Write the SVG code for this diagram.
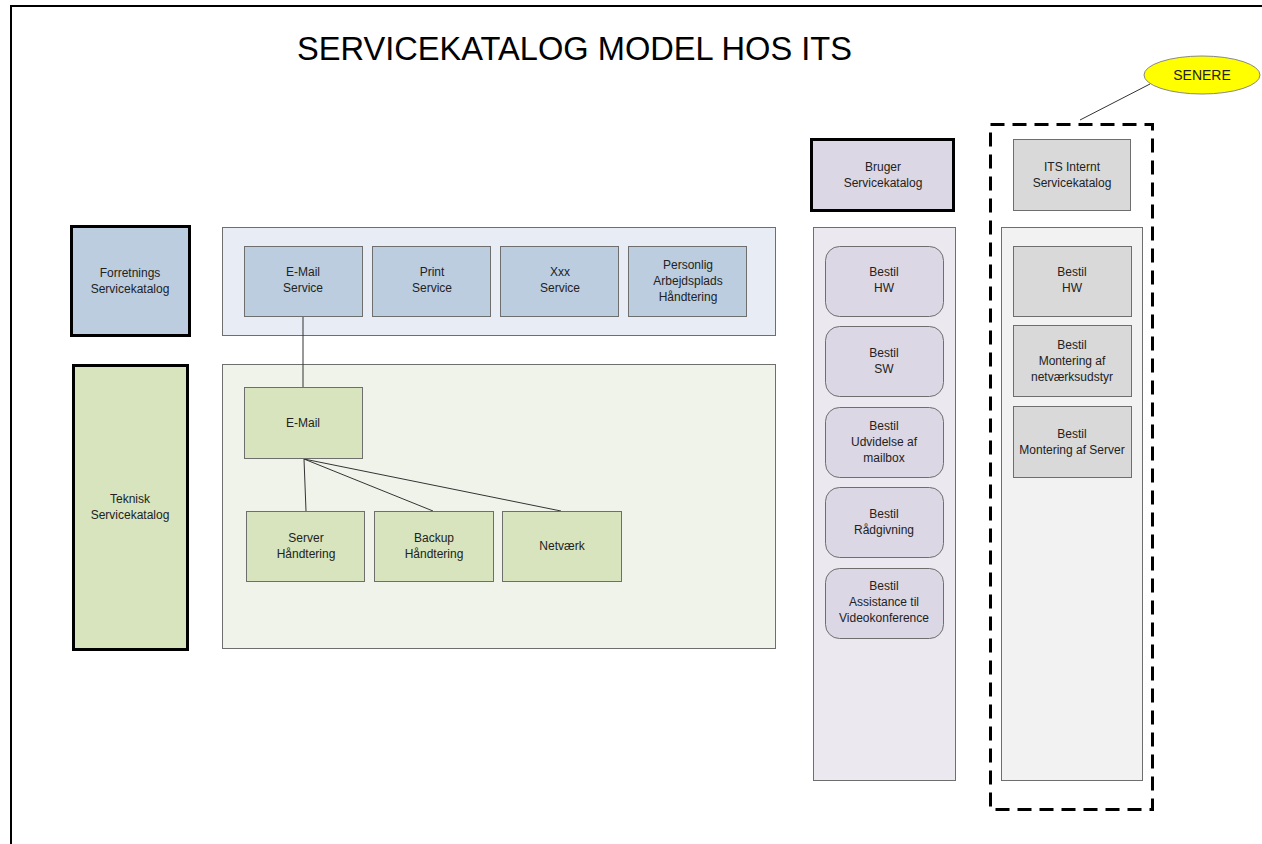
<svg xmlns="http://www.w3.org/2000/svg" width="1262" height="844" viewBox="0 0 1262 844">
  <style>
    text { font-family: "Liberation Sans", Arial, sans-serif; font-size: 12px; fill: #222; text-anchor: middle; }
    .title { font-size: 33px; fill: #000; text-anchor: start; }
    .blue { fill: #bccde0; }
    .green { fill: #d7e4bd; }
    .lav { fill: #dcd7e4; }
    .grey { fill: #d9d9d9; }
    .thick { stroke: #000; stroke-width: 3; }
    .thin { stroke: #6e6e6e; stroke-width: 1; }
    .conn line { stroke: #333; stroke-width: 1; }
  </style>

  <rect width="1262" height="844" fill="#fff"/>
  <!-- page frame -->
  <path d="M11 844 V6 H1262" fill="none" stroke="#000" stroke-width="2"/>

  <text class="title" x="297" y="60" textLength="555" lengthAdjust="spacingAndGlyphs">SERVICEKATALOG MODEL HOS ITS</text>

  <!-- containers -->
  <g id="forretning-panel"><rect x="222.5" y="227.5" width="553" height="108" fill="#e8ecf4" class="thin"/></g>
  <g id="teknisk-panel"><rect x="222.5" y="364.5" width="553" height="284" fill="#f0f3ea" class="thin"/></g>
  <g id="bruger-panel"><rect x="813.5" y="227.5" width="142" height="553" fill="#ebe8ef" class="thin"/></g>
  <g id="its-panel"><rect x="1001.5" y="227.5" width="141" height="553" fill="#f2f2f2" class="thin"/></g>

  <!-- connectors -->
  <g class="conn" id="connectors">
    <line x1="303" y1="317" x2="303" y2="387"/>
    <line x1="304" y1="459" x2="306" y2="511"/>
    <line x1="304" y1="459" x2="433" y2="511"/>
    <line x1="304" y1="459" x2="561" y2="511"/>
    <line x1="1080" y1="120" x2="1150" y2="84" stroke="#777"/>
  </g>

  <!-- catalogue headers -->
  <g id="forretnings-servicekatalog">
    <rect x="71.5" y="226.5" width="118" height="109" class="blue thick"/>
    <text x="130" y="277">Forretnings</text><text x="130" y="293">Servicekatalog</text>
  </g>
  <g id="teknisk-servicekatalog">
    <rect x="73.5" y="365.5" width="114" height="284" class="green thick"/>
    <text x="130" y="503">Teknisk</text><text x="130" y="519">Servicekatalog</text>
  </g>
  <g id="bruger-servicekatalog">
    <rect x="811.5" y="139.5" width="142" height="71" class="lav thick"/>
    <text x="883" y="171">Bruger</text><text x="883" y="187">Servicekatalog</text>
  </g>
  <g id="its-internt-servicekatalog">
    <rect x="1013.5" y="139.5" width="117" height="71" class="grey thin"/>
    <text x="1072" y="171">ITS Internt</text><text x="1072" y="187">Servicekatalog</text>
  </g>

  <!-- business services -->
  <g id="email-service">
    <rect x="244.5" y="246.5" width="118" height="70" class="blue thin"/>
    <text x="303" y="276">E-Mail</text><text x="303" y="292">Service</text>
  </g>
  <g id="print-service">
    <rect x="372.5" y="246.5" width="118" height="70" class="blue thin"/>
    <text x="432" y="276">Print</text><text x="432" y="292">Service</text>
  </g>
  <g id="xxx-service">
    <rect x="500.5" y="246.5" width="118" height="70" class="blue thin"/>
    <text x="560" y="276">Xxx</text><text x="560" y="292">Service</text>
  </g>
  <g id="personlig-arbejdsplads">
    <rect x="628.5" y="246.5" width="118" height="70" class="blue thin"/>
    <text x="688" y="269">Personlig</text><text x="688" y="285">Arbejdsplads</text><text x="688" y="301">Håndtering</text>
  </g>

  <!-- technical services -->
  <g id="email">
    <rect x="244.5" y="387.5" width="118" height="71" class="green thin"/>
    <text x="303" y="427">E-Mail</text>
  </g>
  <g id="server-handtering">
    <rect x="246.5" y="511.5" width="118" height="70" class="green thin"/>
    <text x="306" y="542">Server</text><text x="306" y="558">Håndtering</text>
  </g>
  <g id="backup-handtering">
    <rect x="374.5" y="511.5" width="119" height="70" class="green thin"/>
    <text x="434" y="542">Backup</text><text x="434" y="558">Håndtering</text>
  </g>
  <g id="netvaerk">
    <rect x="502.5" y="511.5" width="119" height="70" class="green thin"/>
    <text x="562" y="550">Netværk</text>
  </g>

  <!-- user catalogue items -->
  <g id="bruger-hw">
    <rect x="825.5" y="246.5" width="118" height="70" rx="14" class="lav thin"/>
    <text x="884" y="276">Bestil</text><text x="884" y="292">HW</text>
  </g>
  <g id="bruger-sw">
    <rect x="825.5" y="326.5" width="118" height="70" rx="14" class="lav thin"/>
    <text x="884" y="357">Bestil</text><text x="884" y="373">SW</text>
  </g>
  <g id="bruger-mailbox">
    <rect x="825.5" y="407.5" width="118" height="70" rx="14" class="lav thin"/>
    <text x="884" y="430">Bestil</text><text x="884" y="446">Udvidelse af</text><text x="884" y="462">mailbox</text>
  </g>
  <g id="bruger-radgivning">
    <rect x="825.5" y="487.5" width="118" height="70" rx="14" class="lav thin"/>
    <text x="884" y="518">Bestil</text><text x="884" y="534">Rådgivning</text>
  </g>
  <g id="bruger-video">
    <rect x="825.5" y="568.5" width="118" height="70" rx="14" class="lav thin"/>
    <text x="884" y="590">Bestil</text><text x="884" y="606">Assistance til</text><text x="884" y="622">Videokonference</text>
  </g>

  <!-- internal catalogue items -->
  <g id="its-hw">
    <rect x="1013.5" y="246.5" width="118" height="70" class="grey thin"/>
    <text x="1072" y="276">Bestil</text><text x="1072" y="292">HW</text>
  </g>
  <g id="its-netvaerk">
    <rect x="1013.5" y="325.5" width="118" height="71" class="grey thin"/>
    <text x="1072" y="349">Bestil</text><text x="1072" y="365">Montering af</text><text x="1072" y="381">netværksudstyr</text>
  </g>
  <g id="its-server">
    <rect x="1013.5" y="406.5" width="118" height="71" class="grey thin"/>
    <text x="1072" y="438">Bestil</text><text x="1072" y="454">Montering af Server</text>
  </g>

  <!-- later scope -->
  <g id="senere-frame">
    <rect x="990.5" y="124.5" width="162" height="685" fill="none" stroke="#000" stroke-width="3" stroke-dasharray="14 8"/>
  </g>
  <g id="senere">
    <ellipse cx="1202" cy="75" rx="58" ry="19" fill="#ffff00" stroke="#888" stroke-width="1"/>
    <text x="1202" y="80" style="font-size:14px">SENERE</text>
  </g>
</svg>
